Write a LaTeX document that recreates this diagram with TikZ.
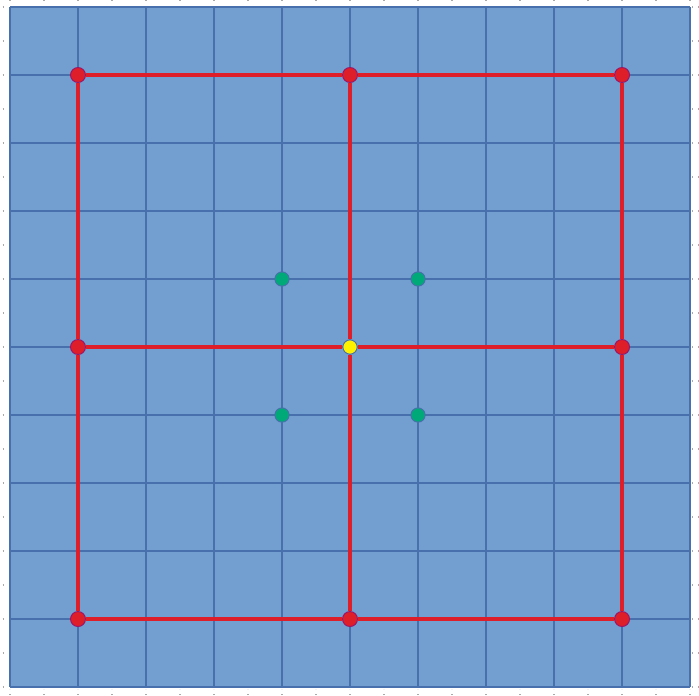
\documentclass[tikz,border=0pt]{standalone}
\usepackage{tikz}
\usetikzlibrary{positioning}

\definecolor{cellblue}{RGB}{114,159,207}
\definecolor{gridblue}{RGB}{72,112,172}
\definecolor{edgered}{RGB}{222,30,40}
\definecolor{dotgreen}{RGB}{0,170,120}
\definecolor{tickgray}{RGB}{170,170,170}

\begin{document}
\begin{tikzpicture}[
    gridline/.style={draw=gridblue, line width=0.8pt},
    tickline/.style={draw=tickgray, dotted, line width=0.5pt},
    edge/.style={draw=edgered, line width=1.7pt},
    corner/.style={circle, fill=edgered, draw=edgered!70!blue, line width=0.4pt, minimum size=0.22cm, inner sep=0pt},
    centre/.style={circle, fill=yellow, draw=gridblue, line width=0.4pt, minimum size=0.21cm, inner sep=0pt},
    inner/.style={circle, fill=dotgreen, draw=gridblue, line width=0.4pt, minimum size=0.21cm, inner sep=0pt}]
  \useasboundingbox (-0.147,-0.118) rectangle (10.132,10.103);
  % blue field with its grid
  \fill[cellblue] (0,0) rectangle (10,10);
  \draw[gridline] (0,0) grid (10,10);
  % small ticks round the frame
  \foreach \t in {0,0.5,...,10} {
    \draw[tickline] (\t,10.103) -- (\t,10.03);
    \draw[tickline] (\t,-0.118) -- (\t,-0.03);
    \draw[tickline] (-0.11,\t) -- (-0.03,\t);
    \draw[tickline] (10.132,\t) -- (10.03,\t);
  }
  % nodes
  \node[corner] (a1) at (1,9) {};
  \node[corner] (a2) at (5,9) {};
  \node[corner] (a3) at (9,9) {};
  \node[corner] (b1) at (1,5) {};
  \node[centre] (b2) at (5,5) {};
  \node[corner] (b3) at (9,5) {};
  \node[corner] (c1) at (1,1) {};
  \node[corner] (c2) at (5,1) {};
  \node[corner] (c3) at (9,1) {};
  \node[inner] (g1) at (4,6) {};
  \node[inner] (g2) at (6,6) {};
  \node[inner] (g3) at (4,4) {};
  \node[inner] (g4) at (6,4) {};
  % red edges
  \draw[edge] (a1) -- (a2);
  \draw[edge] (a2) -- (a3);
  \draw[edge] (b1) -- (b2);
  \draw[edge] (b2) -- (b3);
  \draw[edge] (c1) -- (c2);
  \draw[edge] (c2) -- (c3);
  \draw[edge] (a1) -- (b1);
  \draw[edge] (b1) -- (c1);
  \draw[edge] (a2) -- (b2);
  \draw[edge] (b2) -- (c2);
  \draw[edge] (a3) -- (b3);
  \draw[edge] (b3) -- (c3);
\end{tikzpicture}
\end{document}
